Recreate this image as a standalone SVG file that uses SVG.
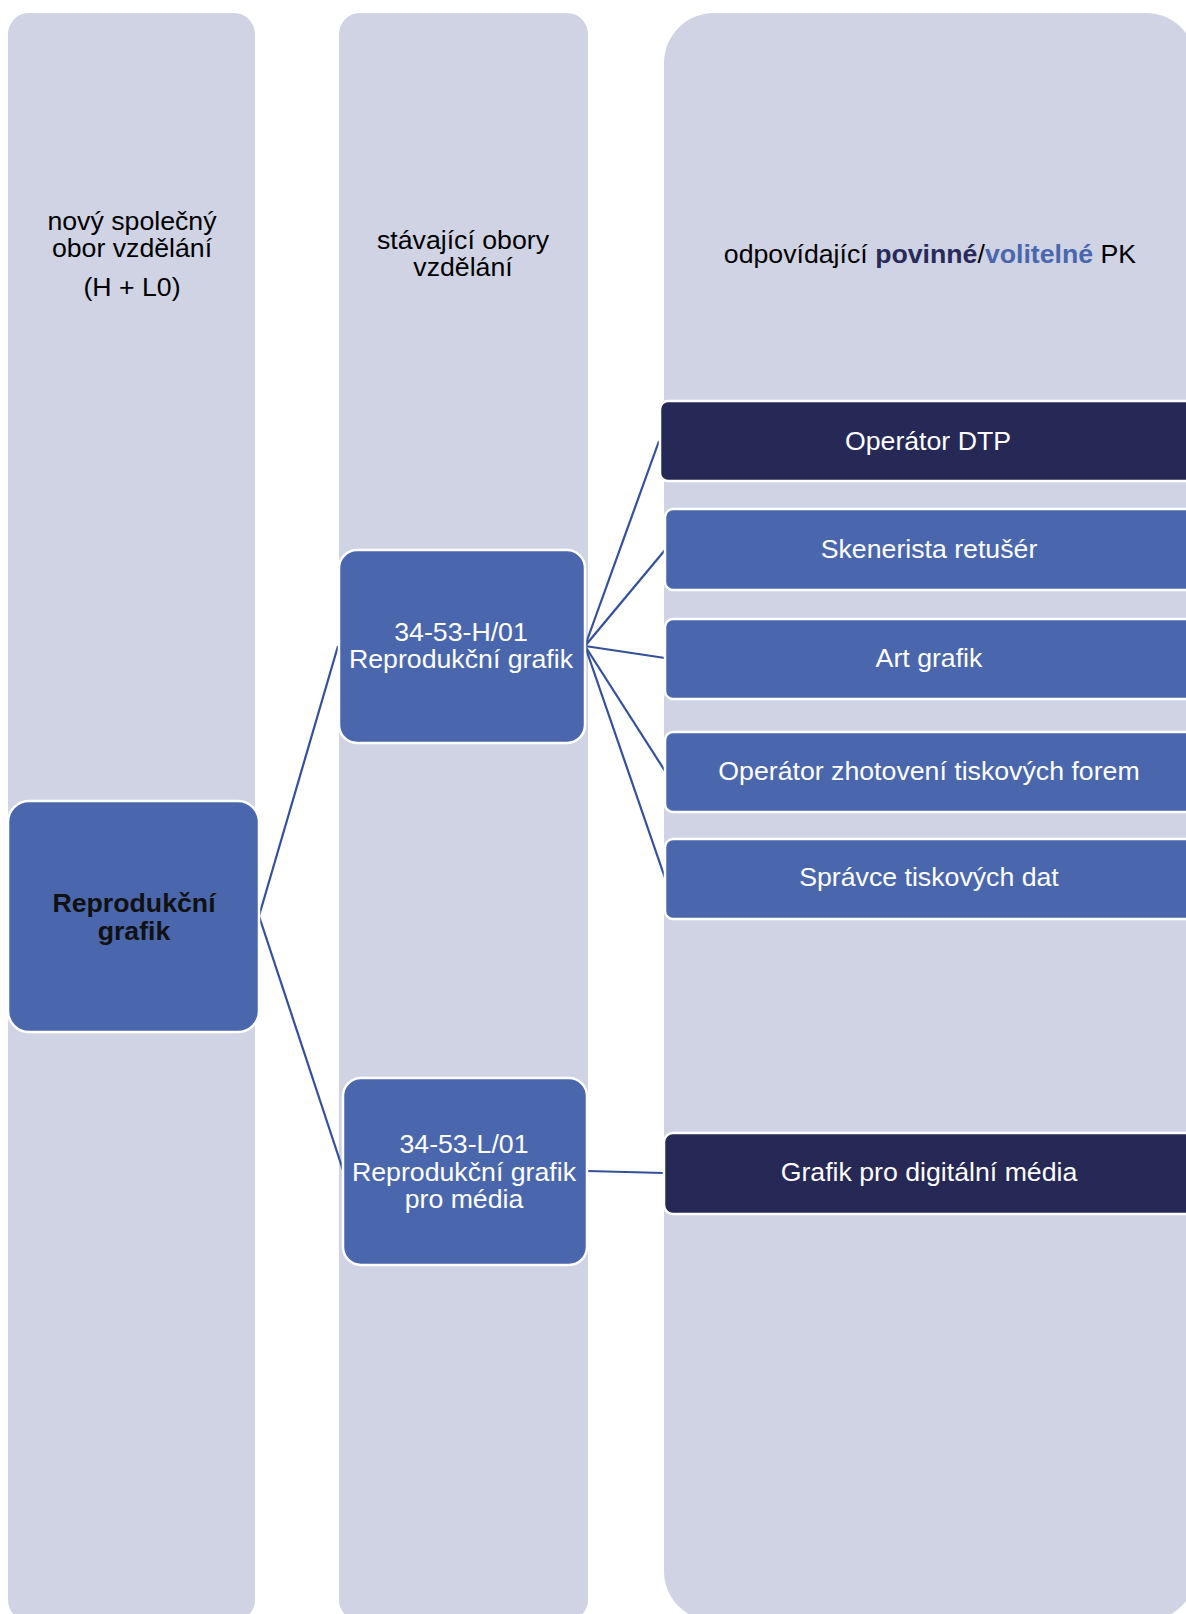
<svg xmlns="http://www.w3.org/2000/svg" width="1186" height="1614" viewBox="0 0 1186 1614">
<style>
.col{fill:#CFD3E4}
.nb{fill:#4A67AD;stroke:#FFFFFF;stroke-width:2.5}
.nd{fill:#262855;stroke:#FFFFFF;stroke-width:2.5}
text{font-family:"Liberation Sans",Arial,sans-serif;font-size:26.7px;text-anchor:middle}
.hd{fill:#000000}
.wt{fill:#FFFFFF}
.bd{fill:#111111;font-weight:bold}
.conn line{stroke:#34509A;stroke-width:2.2;fill:none}
</style>
<rect width="1186" height="1614" fill="#FFFFFF"/>
<g id="col1"><rect class="col" x="8" y="13" width="247" height="1608" rx="21"/>
<text class="hd" x="132" y="230">nový společný</text>
<text class="hd" x="132" y="257">obor vzdělání</text>
<text class="hd" x="132" y="296">(H + L0)</text></g>
<g id="col2"><rect class="col" x="339" y="13" width="249" height="1608" rx="21"/>
<text class="hd" x="463" y="249">stávající obory</text>
<text class="hd" x="463" y="276">vzdělání</text></g>
<g id="col3"><rect class="col" x="664" y="13" width="532" height="1608" rx="50"/>
<text class="hd" x="930" y="263">odpovídající <tspan font-weight="bold" fill="#272A5A">povinné</tspan>/<tspan font-weight="bold" fill="#4A67AD">volitelné</tspan> PK</text></g>
<g class="conn" id="connectors">
<line x1="259" y1="916" x2="338" y2="646"/>
<line x1="259" y1="916" x2="343" y2="1170"/>
<line x1="585" y1="646" x2="659" y2="441"/>
<line x1="585" y1="646" x2="665" y2="550"/>
<line x1="585" y1="646" x2="665" y2="658"/>
<line x1="585" y1="646" x2="665" y2="771"/>
<line x1="585" y1="646" x2="665" y2="878"/>
<line x1="587" y1="1171" x2="664" y2="1173"/>
</g>
<g id="nodeA"><rect class="nb" x="8" y="801" width="251" height="231" rx="21"/>
<text class="bd" x="134" y="912">Reprodukční</text>
<text class="bd" x="134" y="940">grafik</text></g>
<g id="nodeB"><rect class="nb" x="339" y="550" width="246" height="193" rx="18"/>
<text class="wt" x="461" y="641">34-53-H/01</text>
<text class="wt" x="461" y="668">Reprodukční grafik</text></g>
<g id="nodeC"><rect class="nb" x="343" y="1078" width="244" height="187" rx="18"/>
<text class="wt" x="464" y="1153">34-53-L/01</text>
<text class="wt" x="464" y="1181">Reprodukční grafik</text>
<text class="wt" x="464" y="1208">pro média</text></g>
<g id="dtp"><rect class="nd" x="660" y="401" width="545" height="80" rx="8"/>
<text class="wt" x="928" y="450">Operátor DTP</text></g>
<g id="skenerista"><rect class="nb" x="665" y="509" width="540" height="81" rx="8"/>
<text class="wt" x="929" y="558">Skenerista retušér</text></g>
<g id="art"><rect class="nb" x="665" y="619" width="540" height="80" rx="8"/>
<text class="wt" x="929" y="667">Art grafik</text></g>
<g id="operator"><rect class="nb" x="665" y="732" width="540" height="80" rx="8"/>
<text class="wt" x="929" y="780">Operátor zhotovení tiskových forem</text></g>
<g id="spravce"><rect class="nb" x="665" y="839" width="540" height="80" rx="8"/>
<text class="wt" x="929" y="886">Správce tiskových dat</text></g>
<g id="grafik"><rect class="nd" x="664" y="1133" width="541" height="81" rx="9"/>
<text class="wt" x="929" y="1181">Grafik pro digitální média</text></g>
</svg>
